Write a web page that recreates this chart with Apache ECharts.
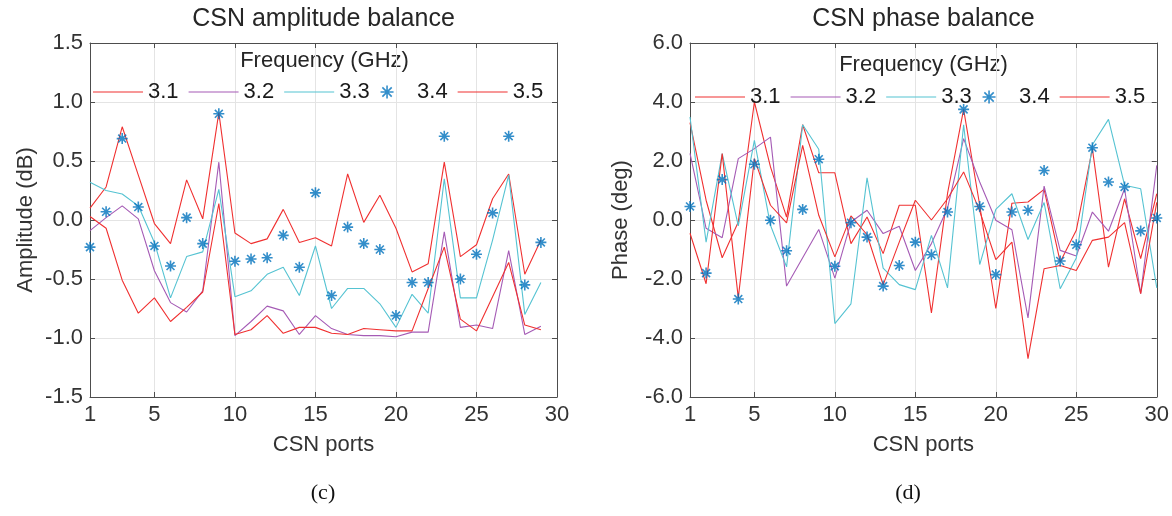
<!DOCTYPE html>
<html>
<head>
<meta charset="utf-8">
<script src="https://cdn.jsdelivr.net/npm/echarts@6/dist/echarts.min.js"></script>
<style>
  html, body { margin: 0; padding: 0; background: #fff; }
  #main { width: 1172px; height: 516px; }
</style>
</head>
<body>
<div id="main"></div>
<script>
  // CSN ports on the x axis
  var ports = ['1','2','3','4','5','6','7','8','9','10','11','12','13','14','15',
               '16','17','18','19','20','21','22','23','24','25','26','27','28','29','30'];
  var xTicks = [1, 5, 10, 15, 20, 25, 30];
  var freqNames = ['3.1', '3.2', '3.3', '3.4', '3.5'];

  // (c) amplitude balance, dB, ports 1..29
  var amp31 = [0.10, 0.28, 0.79, 0.38, -0.03, -0.20, 0.34, 0.01, 0.91, -0.11, -0.20, -0.16, 0.09, -0.19, -0.15,
               -0.22, 0.39, -0.02, 0.21, -0.07, -0.44, -0.37, 0.49, -0.31, -0.21, 0.18, 0.39, -0.46, -0.17];
  var amp32 = [-0.09, 0.02, 0.12, 0.01, -0.43, -0.70, -0.78, -0.60, 0.49, -0.98, -0.86, -0.73, -0.77, -0.97, -0.81,
               -0.92, -0.97, -0.98, -0.98, -0.99, -0.95, -0.95, -0.10, -0.91, -0.89, -0.92, -0.26, -0.97, -0.90];
  var amp33 = [0.32, 0.25, 0.22, 0.12, -0.19, -0.66, -0.31, -0.27, 0.26, -0.65, -0.60, -0.46, -0.40, -0.64, -0.22,
               -0.75, -0.58, -0.58, -0.71, -0.91, -0.63, -0.79, 0.35, -0.66, -0.66, -0.17, 0.38, -0.80, -0.53];
  var amp34 = [-0.23, 0.07, 0.69, 0.11, -0.22, -0.39, 0.02, -0.20, 0.90, -0.35, -0.33, -0.32, -0.13, -0.40, 0.23,
               -0.64, -0.06, -0.20, -0.25, -0.81, -0.53, -0.53, 0.71, -0.50, -0.29, 0.06, 0.71, -0.55, -0.19];
  var amp35 = [0.03, -0.07, -0.51, -0.79, -0.66, -0.86, -0.74, -0.61, 0.14, -0.97, -0.93, -0.81, -0.96, -0.91, -0.91,
               -0.96, -0.97, -0.92, -0.93, -0.94, -0.94, -0.58, -0.23, -0.84, -0.94, -0.65, -0.36, -0.89, -0.93];

  // (d) phase balance, deg, ports 1..30
  var ph31 = [3.30, 0.67, -1.28, -0.07, 4.00, 1.80, 0.10, 3.23, 1.60, 1.60, -0.80, 0.10, -1.14, 0.50, 0.50,
              -3.15, 0.90, 3.75, 0.50, -3.00, 0.57, 0.61, 1.04, -1.42, -0.35, 2.42, -1.60, 0.72, -1.31, 0.89];
  var ph32 = [2.26, -0.28, -0.60, 2.08, 2.42, 2.81, -2.24, -1.28, -0.32, -1.97, -0.07, 0.33, -0.46, -0.21, -1.71,
              -0.80, 0.40, 2.76, 1.29, -0.01, -0.33, -3.32, 1.15, -1.03, -1.22, 0.27, -0.38, 1.06, -2.50, 1.85];
  var ph33 = [3.49, -0.75, 2.25, -0.20, 2.70, -0.18, -1.59, 3.23, 2.40, -3.51, -2.84, 1.43, -1.63, -2.19, -2.36,
              -0.52, -2.30, 3.23, -1.51, 0.36, 0.89, -0.66, 0.59, -2.33, -1.29, 2.55, 3.41, 1.18, 1.06, -2.30];
  var ph34 = [0.46, -1.80, 1.37, -2.68, 1.89, -0.01, -1.04, 0.36, 2.06, -1.57, -0.09, -0.58, -2.24, -1.54, -0.75,
              -1.18, 0.27, 3.75, 0.46, -1.85, 0.27, 0.33, 1.68, -1.39, -0.84, 2.45, 1.29, 1.12, -0.37, 0.07];
  var ph35 = [-0.45, -2.16, 2.25, -2.64, 2.08, 0.50, -0.10, 2.53, 0.16, -1.25, 0.14, -0.50, -2.20, -0.75, 0.67,
              0.00, 0.72, 1.63, 0.30, -1.34, -0.75, -4.70, -1.65, -1.54, -1.71, -0.69, -0.58, -0.09, -2.50, 0.60];

  var ampRange = [-1.5, 1.5, 0.5];
  var phRange = [-6, 6, 2];

  var FONT = '"Liberation Sans", Arial, sans-serif';
  var axisColor = '#4d4d4d';
  var gridColor = '#e4e4e4';
  var red = '#f03030', purple = '#a55bb5', cyan = '#55c3d2', blue = '#0072BD';
  var STAR = 'path://M0,-5L0,5M-5,0L5,0M-3.6,-3.6L3.6,3.6M-3.6,3.6L3.6,-3.6';
  var LINE_ICON = 'path://M0,0L50,0L50,1.2L0,1.2Z';

  function isTick(idx, val) { return xTicks.indexOf(Number(val)) >= 0; }

  function makeX(gi) {
    return [{
      type: 'category', gridIndex: gi, data: ports, boundaryGap: false, position: 'bottom',
      name: 'CSN ports', nameLocation: 'middle', nameGap: 37,
      nameTextStyle: {fontSize: 22, color: '#333', fontFamily: FONT},
      axisLine: {onZero: false, lineStyle: {color: axisColor, width: 1}},
      axisTick: {inside: true, length: 5, interval: isTick, lineStyle: {color: axisColor}},
      axisLabel: {interval: isTick, margin: 7, fontSize: 22, color: '#333', fontFamily: FONT},
      splitLine: {show: true, interval: isTick, lineStyle: {color: gridColor, width: 1}}
    }, {
      type: 'category', gridIndex: gi, data: ports, boundaryGap: false, position: 'top',
      axisLine: {onZero: false, lineStyle: {color: axisColor, width: 1}},
      axisTick: {inside: true, length: 5, interval: isTick, lineStyle: {color: axisColor}},
      axisLabel: {show: false},
      splitLine: {show: false}
    }];
  }

  function makeY(gi, name, range, gap) {
    return [{
      type: 'value', gridIndex: gi, position: 'left',
      min: range[0], max: range[1], interval: range[2],
      name: name, nameLocation: 'middle', nameGap: gap,
      nameTextStyle: {fontSize: 22, color: '#333', fontFamily: FONT},
      axisLine: {show: true, onZero: false, lineStyle: {color: axisColor, width: 1}},
      axisTick: {show: true, inside: true, length: 5, lineStyle: {color: axisColor}},
      axisLabel: {margin: 7, fontSize: 22, color: '#333', fontFamily: FONT,
                  formatter: function (v) { return v.toFixed(1); }},
      splitLine: {show: true, lineStyle: {color: gridColor, width: 1}}
    }, {
      type: 'value', gridIndex: gi, position: 'right',
      min: range[0], max: range[1], interval: range[2],
      axisLine: {show: true, onZero: false, lineStyle: {color: axisColor, width: 1}},
      axisTick: {show: true, inside: true, length: 5, lineStyle: {color: axisColor}},
      axisLabel: {show: false},
      splitLine: {show: false}
    }];
  }

  function line(name, data, color, ai) {
    return {
      name: name, type: 'line', data: data, xAxisIndex: ai, yAxisIndex: ai,
      symbol: 'none', lineStyle: {color: color, width: 1.1}, itemStyle: {color: color},
      emphasis: {disabled: true}, z: 2
    };
  }
  function stars(name, data, ai) {
    return {
      name: name, type: 'scatter', data: data, xAxisIndex: ai, yAxisIndex: ai,
      symbol: STAR, symbolSize: 11,
      itemStyle: {color: 'rgba(0,0,0,0)', borderColor: blue, borderWidth: 1.6},
      emphasis: {disabled: true}, z: 3
    };
  }

  var legendData = freqNames.map(function (n) {
    if (n === '3.4') {
      return {name: n, icon: STAR, itemStyle: {color: 'rgba(0,0,0,0)', borderColor: blue, borderWidth: 1.6}};
    }
    return {name: n, icon: LINE_ICON};
  });
  function legendAt(left, top) {
    return {
      left: left, top: top, padding: 0, itemGap: 10, itemWidth: 50, itemHeight: 13,
      selectedMode: false, symbolKeepAspect: true,
      textStyle: {fontSize: 22, color: '#1a1a1a', fontFamily: FONT},
      data: legendData
    };
  }

  function label(text, x, y, size, family, color) {
    return {
      type: 'text', x: x, y: y, silent: true,
      style: {text: text, fill: color || '#262626', fontSize: size, fontFamily: family || FONT,
              align: 'center', verticalAlign: 'middle'}
    };
  }

  var chart = echarts.init(document.getElementById('main'));
  chart.setOption({
    animation: false,
    backgroundColor: '#fff',
    grid: [
      {left: 90, top: 43, width: 467, height: 354},
      {left: 690, top: 43, width: 467, height: 354}
    ],
    xAxis: makeX(0).concat(makeX(1)),
    yAxis: makeY(0, 'Amplitude (dB)', ampRange, 53).concat(makeY(1, 'Phase (deg)', phRange, 58)),
    legend: [legendAt(93, 81), legendAt(695, 86)],
    graphic: [
      label('CSN amplitude balance', 323.5, 19, 25),
      label('CSN phase balance', 923.5, 19, 25),
      label('Frequency (GHz)', 324.5, 61, 22),
      label('Frequency (GHz)', 923.5, 65, 22),
      label('(c)', 323, 493, 22, '"Liberation Serif", "Times New Roman", serif', '#111'),
      label('(d)', 908, 493, 22, '"Liberation Serif", "Times New Roman", serif', '#111')
    ],
    series: [
      line('3.1', amp31, red, 0),
      line('3.2', amp32, purple, 0),
      line('3.3', amp33, cyan, 0),
      stars('3.4', amp34, 0),
      line('3.5', amp35, red, 0),
      line('3.1', ph31, red, 2),
      line('3.2', ph32, purple, 2),
      line('3.3', ph33, cyan, 2),
      stars('3.4', ph34, 2),
      line('3.5', ph35, red, 2)
    ]
  });
</script>
</body>
</html>
